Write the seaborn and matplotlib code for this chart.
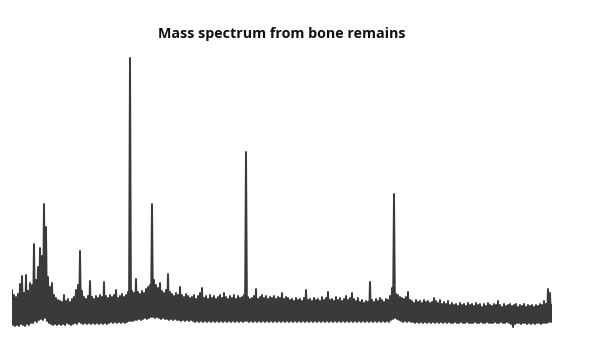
"""Mass spectrum from bone remains: dense noisy trace with a few collagen peaks."""

import matplotlib
matplotlib.use("Agg")
import matplotlib.pyplot as plt
import numpy as np
import pandas as pd
import seaborn as sns

# m/z sampling grid (5 Da steps), 800..3500
mz = np.arange(800, 3505, 5)

# relative intensity, 20 samples per row
intensity = [
    45, 10, 40, 9, 38, 10, 41, 9, 51, 11, 59, 10, 42, 9, 60, 11, 44, 10, 52, 12,
    50, 12, 91, 14, 55, 13, 68, 15, 87, 16, 79, 15, 131, 17, 108, 14, 58, 12, 48, 11,
    52, 10, 40, 11, 37, 10, 35, 11, 34, 10, 33, 11, 40, 10, 34, 12, 36, 11, 33, 10,
    36, 11, 38, 12, 45, 11, 50, 13, 84, 12, 44, 11, 38, 12, 36, 11, 39, 12, 54, 11,
    38, 12, 36, 11, 39, 12, 37, 11, 40, 12, 38, 11, 53, 12, 39, 11, 37, 12, 40, 13,
    38, 12, 40, 13, 45, 12, 37, 13, 39, 12, 41, 13, 38, 12, 40, 13, 43, 14, 277, 14,
    44, 14, 42, 15, 56, 15, 43, 16, 41, 15, 44, 16, 42, 17, 46, 16, 48, 17, 50, 18,
    131, 18, 55, 17, 50, 18, 47, 17, 52, 16, 44, 17, 42, 16, 45, 16, 61, 15, 43, 16,
    41, 15, 39, 16, 42, 15, 40, 15, 48, 14, 40, 15, 38, 14, 41, 15, 39, 14, 37, 15,
    38, 14, 40, 13, 36, 14, 39, 13, 42, 14, 47, 13, 37, 14, 39, 13, 36, 14, 40, 13,
    37, 14, 39, 13, 36, 14, 38, 13, 40, 14, 37, 13, 42, 14, 38, 13, 36, 14, 39, 13,
    37, 14, 40, 13, 36, 14, 39, 13, 37, 14, 38, 13, 40, 14, 183, 14, 38, 13, 36, 14,
    37, 13, 39, 14, 46, 13, 36, 14, 38, 13, 40, 14, 37, 13, 39, 14, 36, 13, 38, 14,
    37, 13, 39, 14, 36, 13, 38, 14, 37, 13, 42, 14, 36, 13, 38, 14, 37, 13, 35, 14,
    36, 13, 34, 14, 37, 13, 35, 14, 36, 13, 34, 14, 37, 13, 45, 14, 35, 13, 36, 14,
    34, 13, 37, 14, 35, 13, 36, 14, 34, 13, 38, 14, 35, 13, 37, 14, 43, 13, 35, 14,
    36, 13, 34, 14, 38, 13, 35, 14, 37, 13, 34, 14, 36, 13, 39, 14, 35, 13, 37, 14,
    42, 13, 36, 14, 34, 13, 37, 14, 33, 13, 35, 14, 32, 13, 34, 14, 33, 13, 53, 14,
    35, 13, 33, 14, 36, 13, 34, 14, 37, 13, 35, 14, 33, 13, 36, 14, 35, 13, 39, 15,
    47, 16, 141, 17, 41, 16, 40, 15, 38, 14, 37, 13, 36, 14, 38, 13, 43, 14, 35, 13,
    34, 13, 32, 12, 35, 13, 33, 12, 34, 13, 32, 12, 35, 13, 33, 12, 34, 13, 32, 12,
    33, 13, 37, 12, 34, 13, 32, 12, 35, 13, 31, 12, 33, 13, 31, 12, 34, 13, 30, 12,
    32, 12, 30, 13, 31, 12, 29, 12, 32, 13, 30, 12, 31, 12, 29, 13, 32, 12, 30, 12,
    31, 12, 29, 13, 32, 12, 30, 12, 31, 13, 28, 12, 31, 12, 29, 13, 32, 12, 30, 12,
    29, 12, 31, 13, 30, 12, 34, 12, 30, 13, 28, 12, 31, 12, 29, 13, 30, 12, 31, 11,
    29, 8, 30, 11, 31, 12, 28, 12, 30, 11, 29, 12, 31, 12, 28, 11, 30, 12, 29, 11,
    30, 12, 28, 11, 30, 12, 29, 12, 31, 11, 30, 12, 34, 12, 31, 12, 46, 13, 42, 13,
    30,
]

TITLE = "Mass spectrum from bone remains"


def main() -> None:
    df = pd.DataFrame({"mz": mz, "intensity": intensity})

    sns.set_theme(style="white")
    plt.rcParams["font.family"] = ["Open Sans", "DejaVu Sans"]

    fig = plt.figure(figsize=(5.97, 3.43), dpi=100)
    ax = fig.add_axes([12 / 597, 8 / 343, 540 / 597, 290 / 343])

    sns.lineplot(data=df, x="mz", y="intensity", color="#3a3a3a",
                 linewidth=1.4, estimator=None, sort=False, ax=ax)

    ax.set_xlim(800, 3500)
    ax.set_ylim(0, 290)
    ax.set_axis_off()
    ax.set_title(TITLE, fontsize=10.3, fontweight="bold", color="#111111", pad=5)

    fig.savefig("out.png", dpi=100)
    plt.close(fig)


if __name__ == "__main__":
    main()
